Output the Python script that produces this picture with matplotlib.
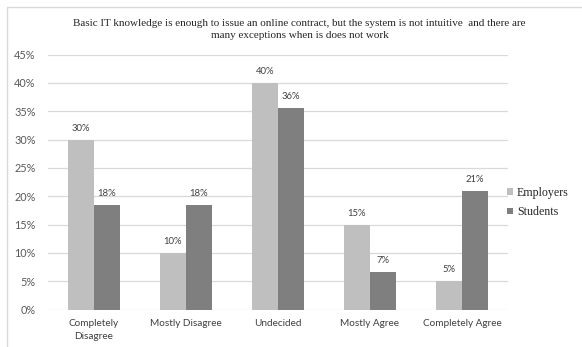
import matplotlib.pyplot as plt
import numpy as np
from matplotlib.patches import Rectangle
from matplotlib.font_manager import FontProperties

# survey answers, share of respondents in %
categories = ['Completely\nDisagree', 'Mostly Disagree', 'Undecided', 'Mostly Agree', 'Completely Agree']
employers = [30, 10, 40, 15, 5]
students = [18.4, 18.4, 35.6, 6.6, 21.0]
yticks = [0, 5, 10, 15, 20, 25, 30, 35, 40, 45]

title = ('Basic IT knowledge is enough to issue an online contract, but the system is not intuitive  and there are\n'
         'many exceptions when is does not work')

sans = ['Lato', 'DejaVu Sans']
serif = ['Liberation Serif', 'DejaVu Serif']

fig = plt.figure(figsize=(5.82, 3.47), dpi=100)
fig.patches.append(Rectangle((7 / 582, -0.1), 1.2, 1 - 7 / 347 + 0.1, transform=fig.transFigure,
                             fill=False, edgecolor='#d9d9d9', linewidth=1.0))
ax = fig.add_axes([48 / 582, 1 - 309.5 / 347, 460 / 582, 255 / 347])

x = np.arange(len(categories))
w = 0.283
b1 = ax.bar(x - w / 2, employers, w, color='#bfbfbf', label='Employers', zorder=2)
b2 = ax.bar(x + w / 2, students, w, color='#7f7f7f', label='Students', zorder=2)

for bars, vals in ((b1, employers), (b2, students)):
    for r, v in zip(bars, vals):
        ax.text(r.get_x() + r.get_width() / 2, v + 1.2, f'{v:.0f}%', ha='center', va='bottom',
                fontsize=6.8, color='#404040', family=sans)

ax.set_xlim(-0.5, len(categories) - 0.5)
ax.set_ylim(0, 45)
ax.set_yticks(yticks)
ax.set_yticklabels([f'{t}%' for t in yticks], family=sans, fontsize=7.8, color='#595959')
ax.set_xticks(x)
ax.set_xticklabels(categories, family=sans, fontsize=7.2, color='#404040', linespacing=1.5)
ax.tick_params(axis='both', length=0)
ax.tick_params(axis='y', pad=9)
ax.tick_params(axis='x', pad=7)
ax.grid(axis='y', color='#d9d9d9', linewidth=0.9, zorder=0)
for s in ax.spines.values():
    s.set_visible(False)

fig.text(0.515, 1 - 29.5 / 347, title, ha='center', va='center', family=serif, fontsize=8.0,
         color='#262626', linespacing=1.3)

leg_font = FontProperties(family='Liberation Serif', size=8.6)
ax.legend(loc='center left', bbox_to_anchor=(0.975, 0.42), frameon=False,
          prop=leg_font, handlelength=0.45, handleheight=0.45,
          handletextpad=0.35, labelspacing=0.6, labelcolor='#262626')

fig.savefig('out.png', dpi=100)
